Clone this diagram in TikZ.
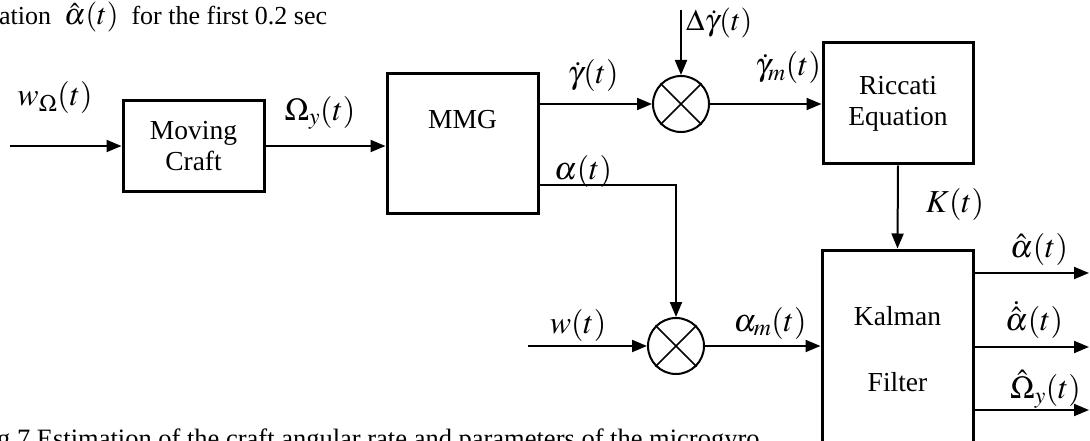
\documentclass[tikz,border=0pt]{standalone}
\usepackage{mathptmx}
\usepackage{fontspec}
\setmainfont{Liberation Serif}
\usetikzlibrary{arrows.meta}
\begin{document}
\begin{tikzpicture}[
x=1pt,y=-1pt,
block/.style={rectangle,draw,line width=3pt,inner sep=0pt,align=center,font=\fontsize{27.5}{31}\selectfont},
junction/.style={circle,draw,line width=2pt,minimum size=56pt,inner sep=0pt},
sig/.style={inner sep=0pt,font=\fontsize{32}{36}\selectfont},
txt/.style={inner sep=0pt,anchor=base west,font=\fontsize{26}{30}\selectfont},
link/.style={line width=2pt,-{Triangle[length=15pt,width=12pt]}},
wire/.style={line width=1.6pt}
]
\useasboundingbox (0,0) rectangle (1090,441);
\clip (0,0) rectangle (1090,441);

\node[block,minimum width=141pt,minimum height=90pt] (craft) at (193.5,146) {Moving\\Craft};
\node[block,minimum width=151pt,minimum height=139pt] (mmg) at (462.5,143.5) {};
\node[inner sep=0pt,font=\fontsize{27.5}{31}\selectfont] (mmgtext) at (462.5,120) {MMG};
\node[junction] (sumg) at (681,104) {};
\node[block,minimum width=150pt,minimum height=121pt] (ricc) at (898,103.5) {Riccati\\Equation};
\node[junction] (suma) at (676,346) {};
\node[block,minimum width=151pt,minimum height=198pt] (kal) at (897.5,349) {Kalman\\[35pt]Filter};

\coordinate (win) at (10,146);
\coordinate (dgin) at (681,10);
\coordinate (wain) at (528,346);
\coordinate (asplit) at ([yshift=-41.5pt]mmg.east);
\coordinate (out1) at (1089,273);
\coordinate (out2) at (1089,347);
\coordinate (out3) at (1089,410);

\draw[link] (win) -- (craft.west);
\draw[link] (craft.east) -- (craft.east -| mmg.west);
\draw[link] (mmg.east |- sumg) -- (sumg.west);
\draw[link] (dgin) -- (sumg.north);
\draw[link] (sumg.east) -- (sumg.east -| ricc.west);
\draw[link] (ricc.south) -- (kal.north);
\draw[link] (asplit) -| (suma.north);
\draw[link] (wain) -- (suma.west);
\draw[link] (suma.east) -- (suma.east -| kal.west);
\draw[link] (kal.east |- out1) -- (out1);
\draw[link] (kal.east |- out2) -- (out2);
\draw[link] (kal.east |- out3) -- (out3);
\draw[wire] (sumg.north west) -- (sumg.south east) (sumg.north east) -- (sumg.south west);
\draw[wire] (suma.north west) -- (suma.south east) (suma.north east) -- (suma.south west);

\node[sig] (lwo) at (55,98) {$w_{\Omega}(t)$};
\node[sig] (loy) at (320,113) {$\Omega_y(t)$};
\node[sig] (lgd) at (593,76) {$\dot\gamma(t)$};
\node[sig,anchor=west,font=\fontsize{30}{34}\selectfont] (ldg) at (686,23) {$\Delta\dot\gamma(t)$};
\node[sig] (lgm) at (788,68) {$\dot\gamma_m(t)$};
\node[sig] (lal) at (583,171) {$\alpha(t)$};
\node[sig] (lk) at (955,204) {$K(t)$};
\node[sig] (lw) at (578,325) {$w(t)$};
\node[sig] (lam) at (770,323) {$\alpha_m(t)$};
\node[sig] (lah) at (1039,249) {$\hat\alpha(t)$};
\node[sig] (lad) at (1034,320) {$\dot{\hat\alpha}(t)$};
\node[sig,anchor=west] (loh) at (1010,389) {$\hat\Omega_y(t)$};

\node[txt] (head) at (-1,25) {ation\ \ {\fontsize{30}{34}\selectfont$\hat\alpha(t)$}\ \ for the first 0.2 sec};
\node[txt,font=\fontsize{26.5}{30}\selectfont] (caption) at (-3,447) {g 7 Estimation of the craft angular rate and parameters of the microgyro};
\end{tikzpicture}
\end{document}
